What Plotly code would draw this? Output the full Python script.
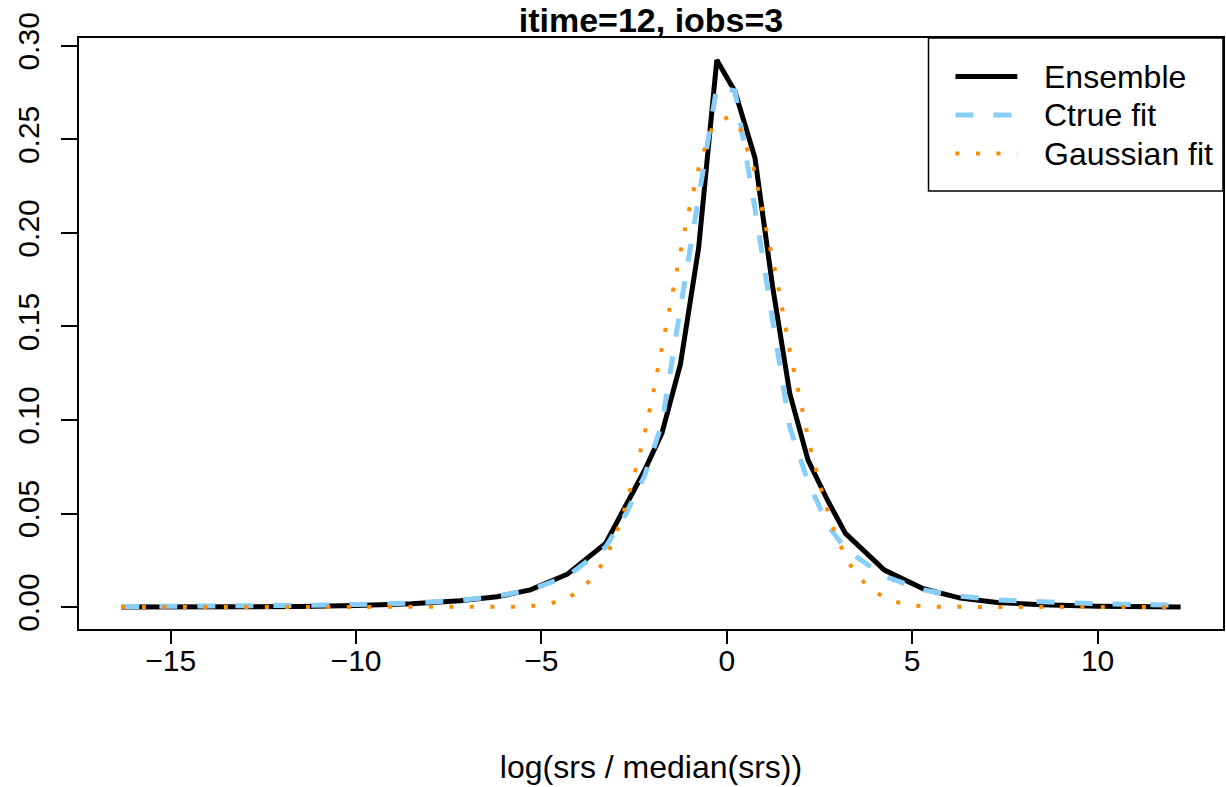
import plotly.graph_objects as go

# ---------------- data ----------------
x_grid = [-16.33, -14.5, -13.0, -11.5, -10.0, -8.5, -7.2, -6.2, -5.3, -4.30,
          -3.27, -2.72, -2.22, -1.75, -1.25, -0.76, -0.27, 0.22, 0.76, 1.23,
          1.70, 2.19, 2.72, 3.20, 4.25, 5.3, 6.3, 7.3, 8.5, 10.0, 11.2, 12.24]

ensemble = [0.0000, 0.0000, 0.0001, 0.0003, 0.0008, 0.0018, 0.0034, 0.0055, 0.0092, 0.0176,
            0.0341, 0.054, 0.073, 0.093, 0.130, 0.192, 0.2925, 0.2756, 0.240, 0.172,
            0.114, 0.0786, 0.057, 0.0394, 0.0198, 0.0098, 0.0048, 0.0025, 0.0012, 0.0004, 0.0002, 0.0001]

ctrue_fit = [0.0003, 0.0004, 0.0006, 0.0009, 0.0014, 0.0022, 0.0036, 0.0058, 0.0092, 0.0165,
             0.032, 0.050, 0.070, 0.098, 0.160, 0.221, 0.278, 0.276, 0.213, 0.154,
             0.096, 0.067, 0.044, 0.031, 0.0165, 0.0092, 0.0058, 0.0038, 0.0027, 0.0018, 0.0013, 0.0010]

gauss_x = [-16.33, -12.0, -8.0, -6.5, -5.9, -5.46, -4.88, -4.34, -3.89, -3.53,
           -3.24, -2.84, -2.53, -2.26, -2.03, -1.71, -1.41, -1.09, -0.72, -0.36,
           0.05, 0.36, 0.72, 1.06, 1.39, 1.68, 2.00, 2.24, 2.51, 2.82,
           3.03, 3.25, 3.56, 3.96, 4.43, 4.95, 5.50, 6.5, 8.0, 10.0, 12.24]
gauss_fit = [0.0, 0.0, 0.0, 0.0, 0.0001, 0.0002, 0.0014, 0.0041, 0.010, 0.018,
             0.027, 0.047, 0.068, 0.089, 0.110, 0.142, 0.174, 0.206, 0.238, 0.258,
             0.262, 0.2555, 0.235, 0.203, 0.171, 0.139, 0.108, 0.086, 0.0656, 0.0448,
             0.0346, 0.0248, 0.016, 0.0084, 0.0034, 0.001, 0.0002, 0.0, 0.0, 0.0, 0.0]

x_ticks = [-15, -10, -5, 0, 5, 10]
y_ticks = [0.00, 0.05, 0.10, 0.15, 0.20, 0.25, 0.30]
series_names = ["Ensemble", "Ctrue fit", "Gaussian fit"]
title_text = "itime=12, iobs=3"
x_label = "log(srs / median(srs))"

# ---------------- styling ----------------
FONT = "Liberation Sans, Arial, Helvetica, sans-serif"
BLACK = "#000000"
BLUE = "#87CEFA"
ORANGE = "#FF8C00"
W, H = 1226, 787
ML, MR, MT, MB = 79, 1, 38, 158

# R-style 4% axis expansion
all_x = x_grid + gauss_x
all_y = ensemble + ctrue_fit + gauss_fit
xr = [min(all_x), max(all_x)]
yr = [min(all_y), max(all_y)]
dx = 0.04 * (xr[1] - xr[0])
dy = 0.04 * (yr[1] - yr[0])

fig = go.Figure()
fig.add_trace(go.Scatter(x=x_grid, y=ensemble, mode="lines", name=series_names[0],
                         line=dict(color=BLACK, width=5), showlegend=False))
fig.add_trace(go.Scatter(x=x_grid, y=ctrue_fit, mode="lines", name=series_names[1],
                         line=dict(color=BLUE, width=5, dash="18px,20px"), showlegend=False))
fig.add_trace(go.Scatter(x=gauss_x, y=gauss_fit, mode="lines", name=series_names[2],
                         line=dict(color=ORANGE, width=4, dash="4px,16.5px"), showlegend=False))

axis_common = dict(
    showline=True, linecolor="black", linewidth=1.5, mirror=True,
    ticks="outside", tickwidth=1.5, tickcolor="black",
    showgrid=False, zeroline=False,
    tickfont=dict(family=FONT, size=30, color="black"),
)

fig.update_xaxes(range=[xr[0] - dx, xr[1] + dx], tickvals=x_ticks, ticklen=13,
                 ticklabelstandoff=-9, **axis_common,
                 title=dict(text=x_label, font=dict(family=FONT, size=32, color="black"), standoff=80))
fig.update_yaxes(range=[yr[0] - dy, yr[1] + dy], tickvals=y_ticks, tickformat=".2f",
                 tickangle=-90, ticklen=16, ticklabelstandoff=10, **axis_common)

# ---- legend (R style box) ----
pw = W - ML - MR
ph = H - MT - MB
def px(x):
    return (x - ML) / pw
def py(y):
    return (H - MB - y) / ph

shapes = [dict(type="rect", xref="paper", yref="paper", x0=px(930), x1=1.0, y0=py(191), y1=1.0,
               line=dict(color="black", width=1.5), fillcolor="white", layer="above")]
rows = [76.5, 115, 153.5]
styles = [dict(color=BLACK, width=5), dict(color=BLUE, width=5, dash="18px,20px"),
          dict(color=ORANGE, width=4, dash="4px,16.5px")]
annotations = []
for name, ry, st in zip(series_names, rows, styles):
    shapes.append(dict(type="line", xref="paper", yref="paper", x0=px(957), x1=px(1019),
                       y0=py(ry), y1=py(ry), line=st, layer="above"))
    annotations.append(dict(xref="paper", yref="paper", x=px(1044), y=py(ry), text=name,
                            showarrow=False, xanchor="left", yanchor="middle",
                            font=dict(family=FONT, size=32, color="black")))

fig.update_layout(
    width=W, height=H,
    margin=dict(l=ML, r=MR, t=MT, b=MB),
    paper_bgcolor="white", plot_bgcolor="white",
    title=dict(text="<b>" + title_text + "</b>", x=px((ML + W - MR) / 2), xref="paper",
               xanchor="center", y=1 - 20 / H, yref="container", yanchor="middle",
               font=dict(family=FONT, size=34, color="black")),
    shapes=shapes, annotations=annotations, showlegend=False,
)

fig.write_html("out.html", config={"displayModeBar": False},
               post_script="document.body.style.margin='0px';document.body.style.padding='0px';")
